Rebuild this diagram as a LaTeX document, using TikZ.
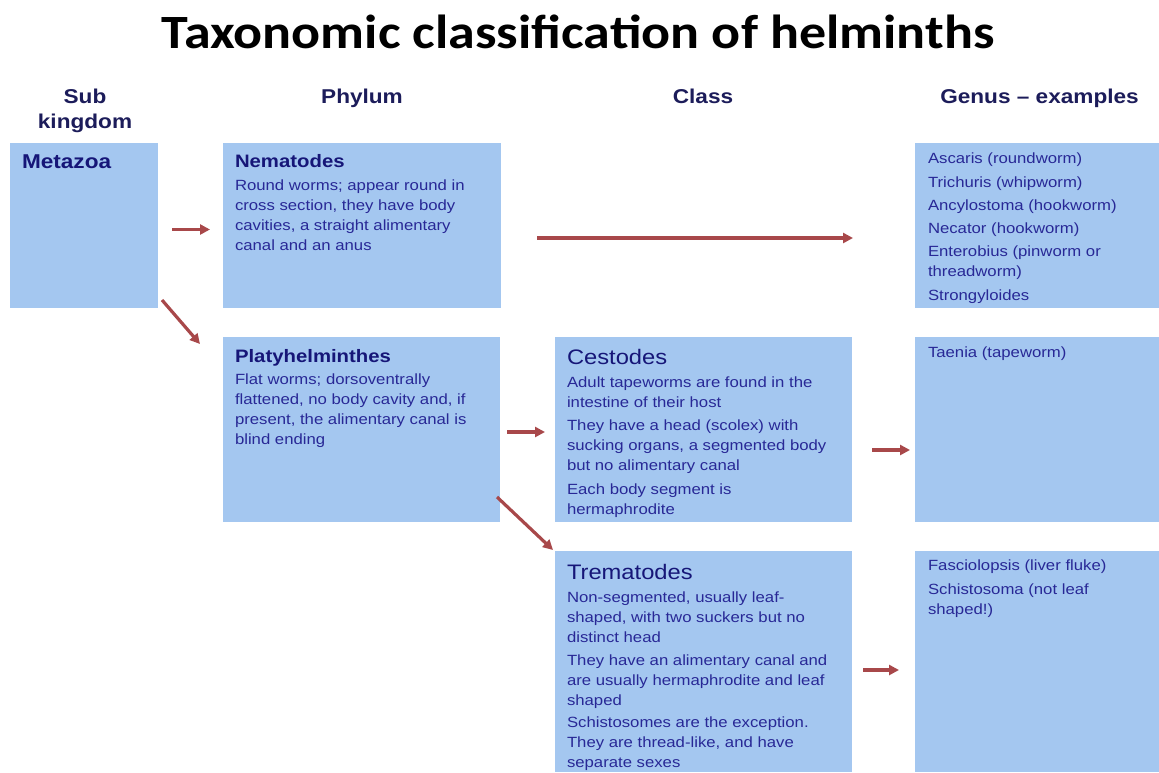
\documentclass[tikz,border=0pt]{standalone}
\usepackage{graphicx}
\usepackage{fontspec}
\setmainfont{Liberation Sans}[FakeStretch=1.13]
\newfontfamily\titlefont{Carlito}[FakeStretch=1.13]
\usetikzlibrary{arrows.meta}
\definecolor{boxblue}{RGB}{164,199,240}
\definecolor{bodyblue}{RGB}{40,40,150}
\definecolor{ttlblue}{RGB}{22,22,120}
\definecolor{hdrblue}{RGB}{28,28,90}
\definecolor{arrred}{RGB}{168,72,74}
\begin{document}
\begin{tikzpicture}[x=1pt,y=-1pt,
  box/.style={fill=boxblue, inner sep=0pt, outer sep=0pt, anchor=north west},
  txt/.style={anchor=north west, inner sep=0pt, outer sep=0pt, align=left, text=bodyblue, font=\fontsize{14.8}{20}\selectfont},
  hdr/.style={text=hdrblue, font=\fontsize{20}{25}\selectfont\bfseries, align=center, inner sep=0pt},
  arr/.style={draw=arrred, line width=3.2pt, -{Triangle[length=10pt,width=10pt]}},
]
\path[use as bounding box, fill=white] (0,0) rectangle (1159,772);

% title and headers
\node[anchor=base, inner sep=0pt, font=\titlefont\bfseries\fontsize{48}{48}\selectfont] (title) at (578,48) {\resizebox{833pt}{!}{Taxonomic classification of helminths}};
\node[hdr, anchor=north] (hsub) at (85,88.5) {Sub\\kingdom};
\node[hdr, anchor=base] (hphy) at (362,103) {Phylum};
\node[hdr, anchor=base] (hcls) at (703,103) {Class};
\node[hdr, anchor=base] (hgen) at (1039.5,103) {Genus – examples};

% boxes
\node[box, minimum width=148pt, minimum height=165pt] (meta) at (10,143) {};
\node[box, minimum width=278pt, minimum height=165pt] (nema) at (223,143) {};
\node[box, minimum width=244pt, minimum height=165pt] (g1) at (915,143) {};
\node[box, minimum width=277pt, minimum height=185pt] (platy) at (223,337) {};
\node[box, minimum width=297pt, minimum height=185pt] (cest) at (555,337) {};
\node[box, minimum width=244pt, minimum height=185pt] (g2) at (915,337) {};
\node[box, minimum width=297pt, minimum height=221pt] (trem) at (555,551) {};
\node[box, minimum width=244pt, minimum height=221pt] (g3) at (915,551) {};

% texts
\node[txt, text=ttlblue, font=\fontsize{20}{24}\selectfont\bfseries] (metat) at ([shift={(12pt,-11.7pt)}]meta.north west) {Metazoa};

\node[txt] (nemat) at ([shift={(12pt,-11pt)}]nema.north west) {{\fontsize{18}{20}\selectfont\bfseries\color{ttlblue}Nematodes}\\[3pt]
Round worms; appear round in\\
cross section, they have body\\
cavities, a straight alimentary\\
canal and an anus};

\node[txt] (platyt) at ([shift={(12pt,-12pt)}]platy.north west) {{\fontsize{18}{20}\selectfont\bfseries\color{ttlblue}Platyhelminthes}\\[2pt]
Flat worms; dorsoventrally\\
flattened, no body cavity and, if\\
present, the alimentary canal is\\
blind ending};

\node[txt] (cestt) at ([shift={(12pt,-12.7pt)}]cest.north west) {{\fontsize{21}{20}\selectfont\color{ttlblue}Cestodes}\\[2.5pt]
Adult tapeworms are found in the\\
intestine of their host\\[3.5pt]
They have a head (scolex) with\\
sucking organs, a segmented body\\
but no alimentary canal\\[3.5pt]
Each body segment is\\
hermaphrodite};

\node[txt] (tremt) at ([shift={(12pt,-13.3pt)}]trem.north west) {{\fontsize{21}{20}\selectfont\color{ttlblue}Trematodes}\\[3pt]
Non-segmented, usually leaf-\\
shaped, with two suckers but no\\
distinct head\\[3pt]
They have an alimentary canal and\\
are usually hermaphrodite and leaf\\
shaped\\[2pt]
Schistosomes are the exception.\\
They are thread-like, and have\\
separate sexes};

\node[txt] (g1t) at ([shift={(13pt,-10pt)}]g1.north west) {Ascaris (roundworm)\\[3.3pt]
Trichuris (whipworm)\\[3.3pt]
Ancylostoma (hookworm)\\[3.3pt]
Necator (hookworm)\\[3.3pt]
Enterobius (pinworm or\\
threadworm)\\[3.3pt]
Strongyloides};

\node[txt] (g2t) at ([shift={(13pt,-9.5pt)}]g2.north west) {Taenia (tapeworm)};

\node[txt] (g3t) at ([shift={(13pt,-8.5pt)}]g3.north west) {Fasciolopsis (liver fluke)\\[4pt]
Schistosoma (not leaf\\
shaped!)};

% arrows
\draw[arr] ([shift={(14pt,-4pt)}]meta.east) -- ([shift={(-13pt,-4pt)}]nema.west);
\draw[arr] ([shift={(4pt,8pt)}]meta.south east) -- ([shift={(-23pt,-7pt)}]platy.north west);
\draw[arr] ([shift={(36pt,-12.5pt)}]nema.east) -- ([shift={(-62pt,-12.5pt)}]g1.west);
\draw[arr] ([shift={(7pt,-2.5pt)}]platy.east) -- ([shift={(-10pt,-2.5pt)}]cest.west);
\draw[arr] ([shift={(-3pt,25pt)}]platy.south east) -- ([shift={(-2pt,1pt)}]trem.north west);
\draw[arr] ([shift={(20pt,-20.5pt)}]cest.east) -- ([shift={(-5pt,-20.5pt)}]g2.west);
\draw[arr] ([shift={(11pt,-8.5pt)}]trem.east) -- ([shift={(-16pt,-8.5pt)}]g3.west);
\end{tikzpicture}
\end{document}
